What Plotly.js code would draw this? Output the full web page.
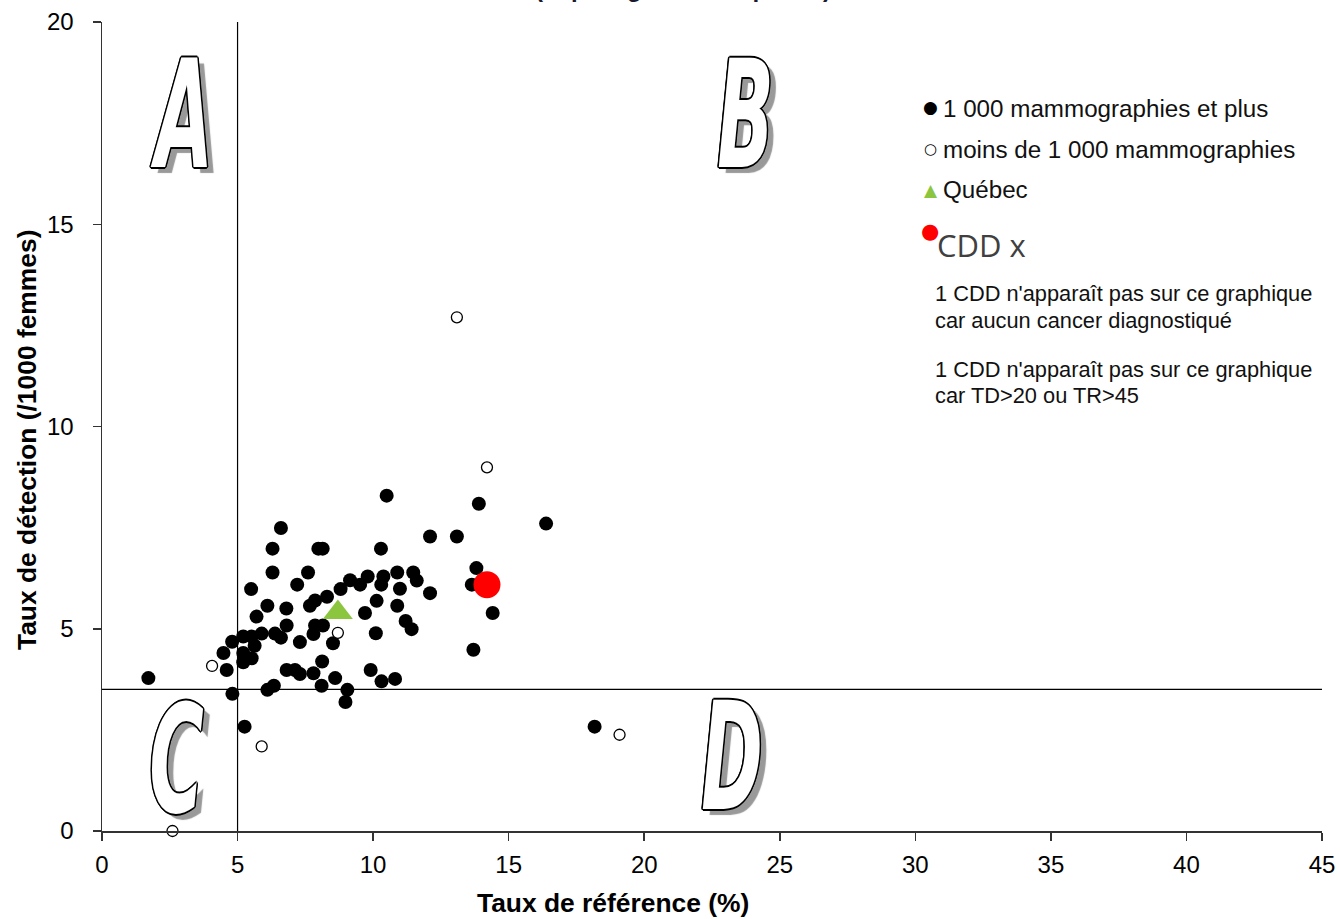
<!DOCTYPE html>
<html>
<head>
<meta charset="utf-8">
<script src="https://cdn.plot.ly/plotly-3.0.1.min.js"></script>
<style>html,body{margin:0;padding:0;background:#fff;}#chart{width:1340px;height:919px;}</style>
</head>
<body>
<div id="chart"></div>
<script>
// ---- data ----
const filledX = [1.71, 4.81, 5.26, 18.17, 16.38, 10.5, 13.9, 12.1, 13.09, 13.81, 13.64, 14.41, 13.7, 12.1,
  6.6, 6.29, 7.98, 8.14, 10.29, 6.29, 7.6, 7.2, 5.5, 9.15, 9.52, 9.8, 8.8, 8.3, 7.86, 7.67, 6.1, 6.8, 5.7,
  6.81, 7.86, 8.15, 7.8, 7.3, 8.52, 5.89, 6.38, 6.6, 4.8, 5.21, 5.52, 5.63, 4.48, 5.21, 5.52, 5.21, 4.6,
  6.1, 6.34, 6.81, 7.12, 7.3, 7.8, 8.12, 8.1, 8.6, 9.05, 8.98, 9.91, 10.31, 10.81, 10.1, 9.7, 10.13, 10.3,
  10.38, 10.89, 11.48, 11.61, 10.99, 10.89, 11.2, 11.42];
const filledY = [3.78, 3.39, 2.58, 2.58, 7.6, 8.29, 8.09, 7.28, 7.28, 6.5, 6.09, 5.39, 4.48, 5.88,
  7.49, 6.98, 6.98, 6.98, 6.98, 6.39, 6.39, 6.09, 5.98, 6.2, 6.09, 6.29, 5.98, 5.79, 5.7, 5.57, 5.57, 5.5, 5.3,
  5.08, 5.08, 5.08, 4.87, 4.67, 4.64, 4.88, 4.88, 4.78, 4.68, 4.81, 4.81, 4.58, 4.4, 4.4, 4.27, 4.17, 3.98,
  3.49, 3.59, 3.98, 3.98, 3.88, 3.9, 4.19, 3.59, 3.78, 3.49, 3.19, 3.98, 3.7, 3.76, 4.89, 5.39, 5.69, 6.09,
  6.29, 6.39, 6.39, 6.19, 5.99, 5.57, 5.19, 4.99];
const openX = [2.6, 4.06, 5.89, 8.7, 13.09, 14.2, 19.09];
const openY = [0, 4.08, 2.09, 4.9, 12.7, 8.99, 2.38];
const quebecX = [8.7];
const quebecY = [5.4];
const cddX = [14.2];
const cddY = [6.09];
const xTicks = [0, 5, 10, 15, 20, 25, 30, 35, 40, 45];
const yTicks = [0, 5, 10, 15, 20];
const refX = 5;      // vertical reference line
const refY = 3.5;    // horizontal reference line

const legendLabels = ['1 000 mammographies et plus', 'moins de 1 000 mammographies', 'Québec', 'CDD x'];
const noteLines = ["1 CDD n'apparaît pas sur ce graphique", 'car aucun cancer diagnostiqué',
                   "1 CDD n'apparaît pas sur ce graphique", 'car TD>20 ou TR>45'];
const quadrantLetters = ['A', 'B', 'C', 'D'];
const quadrantX = [2.95, 23.75, 2.75, 23.25];
const quadrantY = [17.7, 17.7, 1.76, 1.83];

// ---- layout helpers (pixel -> paper) ----
const L = 102, R = 1322, T = 22, B = 831;
const px = v => (v - L) / (R - L);
const py = v => (B - v) / (B - T);

const traces = [
  {x: filledX, y: filledY, type: 'scatter', mode: 'markers', cliponaxis: false,
   marker: {color: '#000', size: 14, line: {width: 0}}, hoverinfo: 'x+y'},
  {x: openX, y: openY, type: 'scatter', mode: 'markers', cliponaxis: false,
   marker: {color: '#fff', size: 11, line: {color: '#000', width: 1.3}}},
  {x: quebecX, y: quebecY, type: 'scatter', mode: 'markers', cliponaxis: false,
   marker: {color: '#8CC63F', size: 26, symbol: 'triangle-up', line: {width: 0}}},
  {x: cddX, y: cddY, type: 'scatter', mode: 'markers', cliponaxis: false,
   marker: {color: '#FF0000', size: 27, line: {width: 0}}}
];

const ann = [];
// title (cut at the top of the page, as in the reference)
ann.push({xref: 'paper', yref: 'paper', x: px(683), y: py(4), xanchor: 'center', yanchor: 'bottom',
  text: '(dépistages subséquents)', showarrow: false,
  font: {family: 'Liberation Sans, Arial, sans-serif', size: 24, weight: 'bold', color: '#1a1a2e'}});
// axis titles
ann.push({xref: 'paper', yref: 'paper', x: px(613), y: py(903), xanchor: 'center', yanchor: 'middle',
  text: 'Taux de référence (%)', showarrow: false,
  font: {family: 'Liberation Sans, Arial, sans-serif', size: 26.4, weight: 'bold', color: '#000'}});
ann.push({xref: 'paper', yref: 'paper', x: px(27), y: py(440), xanchor: 'center', yanchor: 'middle',
  text: 'Taux de détection (/1000 femmes)', showarrow: false, textangle: -90,
  font: {family: 'Liberation Sans, Arial, sans-serif', size: 26.4, weight: 'bold', color: '#000'}});
// legend symbols
const symFont = 'DejaVu Sans, sans-serif';
ann.push({xref: 'paper', yref: 'paper', x: px(930), y: py(107), xanchor: 'center', yanchor: 'middle',
  text: '●', showarrow: false, font: {family: symFont, size: 17, color: '#000'}});
ann.push({xref: 'paper', yref: 'paper', x: px(930), y: py(149), xanchor: 'center', yanchor: 'middle',
  text: '○', showarrow: false, font: {family: symFont, size: 15, color: '#000'}});
ann.push({xref: 'paper', yref: 'paper', x: px(931), y: py(190), xanchor: 'center', yanchor: 'middle',
  text: '▲', showarrow: false, font: {family: symFont, size: 17, color: '#8CC63F'}});
ann.push({xref: 'paper', yref: 'paper', x: px(930), y: py(231), xanchor: 'center', yanchor: 'middle',
  text: '●', showarrow: false, font: {family: symFont, size: 21, color: '#FF0000'}});
// legend labels
const legY = [108, 149, 190];
for (let i = 0; i < 3; i++) {
  ann.push({xref: 'paper', yref: 'paper', x: px(941), y: py(legY[i]), xanchor: 'left', yanchor: 'middle',
    text: legendLabels[i], showarrow: false,
    font: {family: 'Liberation Sans, Arial, sans-serif', size: 24.2, color: '#111'}});
}
ann.push({xref: 'paper', yref: 'paper', x: px(935), y: py(245), xanchor: 'left', yanchor: 'middle',
  text: legendLabels[3], showarrow: false,
  font: {family: 'Open Sans, sans-serif', size: 31, color: '#404040'}});
// notes
const noteY = [294, 320, 370, 395];
for (let i = 0; i < noteLines.length; i++) {
  ann.push({xref: 'paper', yref: 'paper', x: px(933), y: py(noteY[i]), xanchor: 'left', yanchor: 'middle',
    text: noteLines[i], showarrow: false,
    font: {family: 'Liberation Sans, Arial, sans-serif', size: 21.8, color: '#111'}});
}
// quadrant letters
for (let i = 0; i < quadrantLetters.length; i++) {
  ann.push({xref: 'x', yref: 'y', x: quadrantX[i], y: quadrantY[i], xanchor: 'center', yanchor: 'middle',
    text: quadrantLetters[i], showarrow: false, name: 'quadrant',
    font: {family: 'Liberation Sans Narrow, Arial Narrow, DejaVu Sans Condensed, sans-serif', size: 150,
      weight: 'bold', style: 'italic', color: '#fff',
      shadow: '-1.6px -1px 0 #000, 1.6px -1px 0 #000, -1.6px 1px 0 #000, 1.6px 1px 0 #000, 0 1.3px 0 #000, 0 -1.3px 0 #000, 2.2px 0 0 #000, -2.2px 0 0 #000, 10px 5px 1px #999'}});
}

const layout = {
  width: 1340, height: 919,
  margin: {l: L, r: 1340 - R, t: T, b: 919 - B, pad: 0},
  paper_bgcolor: '#fff', plot_bgcolor: '#fff',
  showlegend: false,
  xaxis: {range: [0, 45], tickvals: xTicks, ticktext: xTicks.map(String), ticks: 'outside', ticklen: 8,
    tickcolor: '#333', tickwidth: 1.5, showline: true, linecolor: '#333', linewidth: 1.5, showgrid: false,
    zeroline: false, ticklabelstandoff: 4, fixedrange: true,
    tickfont: {family: 'Liberation Sans, Arial, sans-serif', size: 24, color: '#000'}},
  yaxis: {range: [0, 20], tickvals: yTicks, ticktext: yTicks.map(String), ticks: 'outside', ticklen: 8,
    tickcolor: '#333', tickwidth: 1.5, showline: true, linecolor: '#333', linewidth: 1.5, showgrid: false,
    zeroline: false, ticklabelstandoff: 14, fixedrange: true,
    tickfont: {family: 'Liberation Sans, Arial, sans-serif', size: 24, color: '#000'}},
  shapes: [
    {type: 'line', xref: 'x', yref: 'y', x0: refX, x1: refX, y0: 0, y1: 20, line: {color: '#000', width: 1.2}, layer: 'below'},
    {type: 'line', xref: 'x', yref: 'y', x0: 0, x1: 45, y0: refY, y1: refY, line: {color: '#000', width: 1.2}, layer: 'below'}
  ],
  annotations: ann
};

Plotly.newPlot('chart', traces, layout, {staticPlot: true, displayModeBar: false}).then(function (gd) {
  // condense the tall quadrant letters horizontally, like the reference's narrow block letters
  const texts = gd.querySelectorAll('.annotation-text');
  texts.forEach(function (t) {
    if (quadrantLetters.indexOf(t.textContent) >= 0) {
      const bb = t.getBBox();
      const cx = bb.x + bb.width / 2, cy = bb.y + bb.height / 2;
      t.setAttribute('transform', 'translate(' + cx + ',' + cy + ') scale(0.55,1) translate(' + (-cx) + ',' + (-cy) + ')');
    }
  });
});
</script>
</body>
</html>
